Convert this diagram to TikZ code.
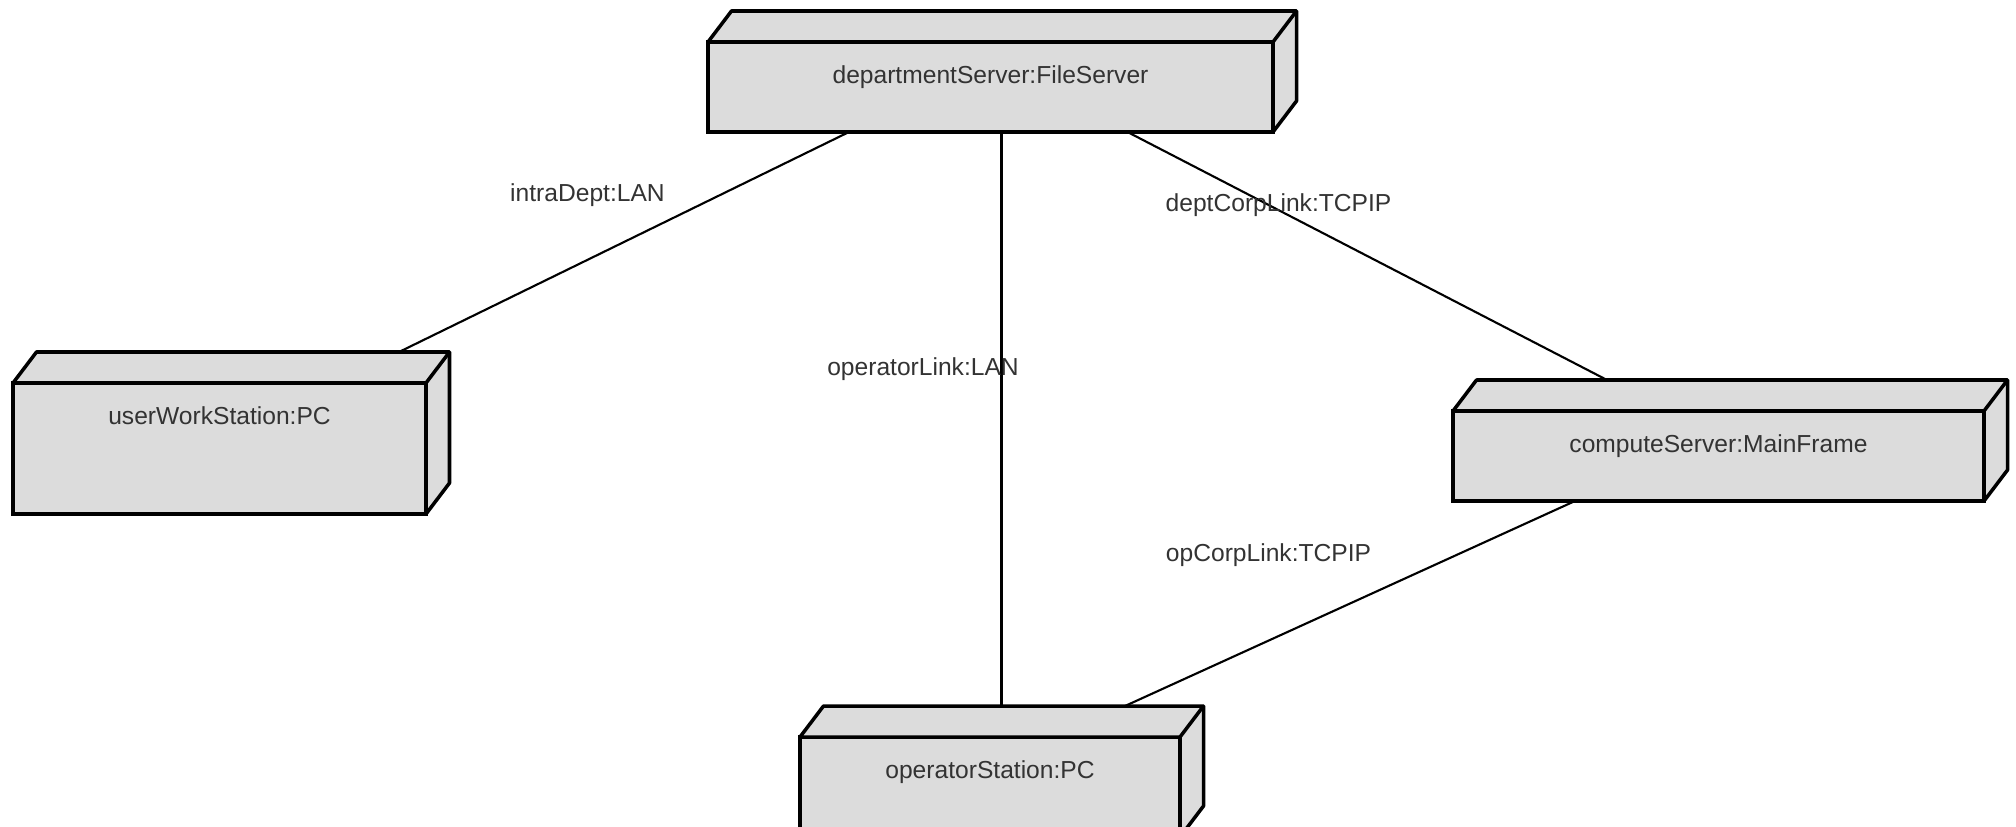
\documentclass[tikz,border=0pt]{standalone}
\usepackage{fontspec}
\setmainfont{Liberation Sans}
\usepackage{xcolor}
\definecolor{mgray}{HTML}{DCDCDC}
\definecolor{mtext}{HTML}{333333}
\usepackage{tikz}
\usetikzlibrary{calc}

\begin{document}
\begin{tikzpicture}[
        devnode/.style={draw, line width=2pt, fill=mgray, inner sep=0, outer sep=0, text height=0.83cm, font=\fontsize{14}{16}\selectfont, text=mtext},
        linkline/.style={line width=1.2pt},
        linklabel/.style={font=\fontsize{14}{16}\selectfont, text=mtext, inner sep=0}
    ]
        \useasboundingbox (0, 0) rectangle (40.32, -16.54);

        \node[devnode, minimum width=11.3cm, text depth=0.97cm] (dept) at (19.81, -1.74) {departmentServer:FileServer};
        \node[devnode, minimum width=8.26cm, text depth=1.79cm] (user) at (4.39, -8.97) {userWorkStation:PC};
        \node[devnode, minimum width=10.62cm, text depth=0.97cm] (comp) at (34.37, -9.12) {computeServer:MainFrame};
        \node[devnode, minimum width=7.6cm, text depth=1.17cm] (op) at (19.8, -15.74) {operatorStation:PC};

        % top and side faces
        \foreach \n in {dept, user, comp, op} {
            \draw[line width=2pt, fill=mgray, line join=round] (\n.north west) -- ++(0.47, 0.62) -- ($(\n.north east)+(0.47, 0.62)$) -- ($(\n.south east)+(0.47, 0.62)$) -- (\n.south east) -- (\n.north east) -- cycle;
            \draw[line width=2pt] (\n.north east) -- ++(0.47, 0.62);
        }

        \draw[linkline] ($(dept.south)+(-2.83, 0)$) -- ($(user.north)+(3.59, 0.62)$);
        \coordinate (opTop) at ($(op.north)+(0, 0.62)$);
        \draw[linkline] ($(dept.south)+(0.22, 0)$) coordinate (opLinkTop) -- (opLinkTop |- opTop);
        \draw[linkline] ($(dept.south)+(2.74, 0)$) -- ($(comp.north)+(-2.23, 0.62)$);
        \draw[linkline] ($(comp.south)+(-2.87, 0)$) -- ($(op.north)+(2.7, 0.62)$);

        \node[linklabel] (intraLbl) at (11.75, -3.91) {intraDept:LAN};
        \node[linklabel] (opLinkLbl) at (18.46, -7.38) {operatorLink:LAN};
        \node[linklabel] (deptCorpLbl) at (25.57, -4.11) {deptCorpLink:TCPIP};
        \node[linklabel] (opCorpLbl) at (25.37, -11.1) {opCorpLink:TCPIP};
    \end{tikzpicture}
\end{document}
